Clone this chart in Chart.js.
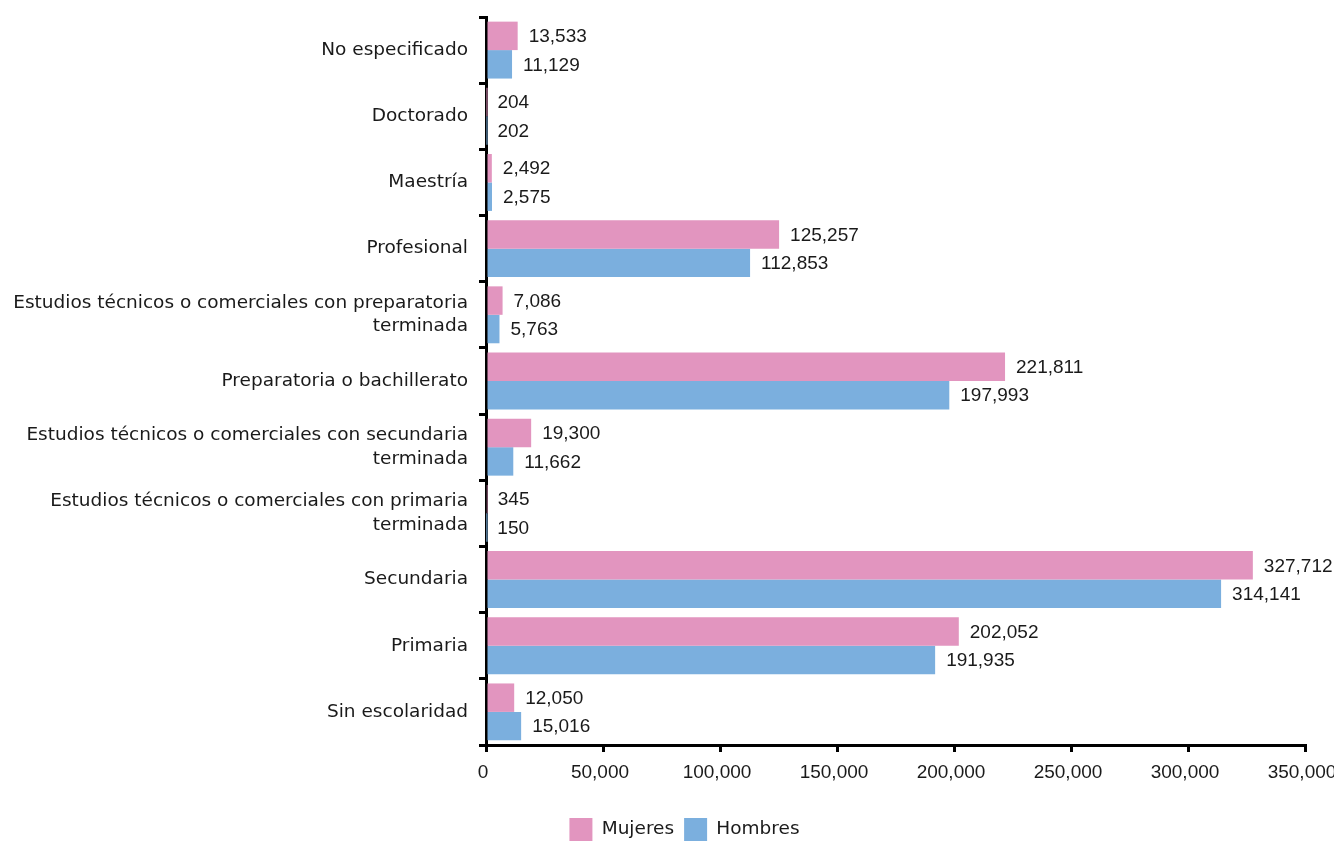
<!DOCTYPE html>
<html>
<head>
<meta charset="utf-8">
<script src="https://cdn.jsdelivr.net/npm/chart.js@4.4.1/dist/chart.umd.min.js"></script>
<style>
  html, body { margin: 0; padding: 0; background: #fff; }
  #wrap { width: 1334px; height: 841px; position: relative; }
</style>
</head>
<body>
<div id="wrap"><canvas id="c" width="1334" height="841"></canvas></div>
<script>
const categories = [
  'No especificado',
  'Doctorado',
  'Maestría',
  'Profesional',
  ['Estudios técnicos o comerciales con preparatoria', 'terminada'],
  'Preparatoria o bachillerato',
  ['Estudios técnicos o comerciales con secundaria', 'terminada'],
  ['Estudios técnicos o comerciales con primaria', 'terminada'],
  'Secundaria',
  'Primaria',
  'Sin escolaridad'
];
const mujeres = [13533, 204, 2492, 125257, 7086, 221811, 19300, 345, 327712, 202052, 12050];
const hombres = [11129, 202, 2575, 112853, 5763, 197993, 11662, 150, 314141, 191935, 15016];
const xTicks = [0, 50000, 100000, 150000, 200000, 250000, 300000, 350000];

const TEXT_FONT = 'DejaVu Sans';
const TEXT_SIZE = 18.5;
const NUM_FONT = 'Liberation Sans';
const NUM_SIZE = 19;
const INK = '#1a1a1a';

const valueLabels = {
  id: 'valueLabels',
  afterDatasetsDraw(chart) {
    const ctx = chart.ctx;
    ctx.save();
    ctx.font = NUM_SIZE + 'px "' + NUM_FONT + '"';
    ctx.fillStyle = INK;
    ctx.textAlign = 'left';
    ctx.textBaseline = 'middle';
    chart.data.datasets.forEach((ds, di) => {
      chart.getDatasetMeta(di).data.forEach((bar, i) => {
        ctx.fillText(ds.data[i].toLocaleString('en-US'), bar.x + 11, bar.y + 1);
      });
    });
    ctx.restore();
  }
};

// centre the legend under the figure the way the original does
const legendShift = {
  id: 'legendShift',
  afterLayout(chart) {
    if (chart.legend) { chart.legend.left = 64; }
  }
};

new Chart(document.getElementById('c'), {
  type: 'bar',
  data: {
    labels: categories,
    datasets: [
      { label: 'Mujeres', data: mujeres, backgroundColor: '#e295bf', borderWidth: 0 },
      { label: 'Hombres', data: hombres, backgroundColor: '#7bafde', borderWidth: 0 }
    ]
  },
  options: {
    indexAxis: 'y',
    responsive: false,
    animation: false,
    devicePixelRatio: 1,
    categoryPercentage: 0.86,
    barPercentage: 1.0,
    layout: { padding: { top: 17, right: 29, bottom: -10, left: 0 } },
    scales: {
      x: {
        min: 0, max: 350000,
        afterBuildTicks(scale) { scale.ticks = xTicks.map(v => ({ value: v })); },
        afterFit(scale) { scale.height = 63; scale.paddingLeft = 0; scale.paddingRight = 0; },
        border: { display: true, color: '#000', width: 3 },
        grid: { display: true, drawOnChartArea: false, drawTicks: true, tickLength: 7, color: '#000', lineWidth: 3 },
        ticks: {
          color: INK, padding: 9, maxRotation: 0, autoSkip: false, labelOffset: -3,
          font: { family: NUM_FONT, size: NUM_SIZE },
          callback: (v) => Number(v).toLocaleString('en-US')
        }
      },
      y: {
        afterFit(scale) { scale.width = 486; scale.paddingTop = 0; scale.paddingBottom = 0; },
        border: { display: true, color: '#000', width: 3 },
        grid: { display: true, drawOnChartArea: false, drawTicks: true, tickLength: 7, color: '#000', lineWidth: 3, offset: true },
        ticks: {
          color: INK, padding: 11, autoSkip: false,
          font: { family: TEXT_FONT, size: TEXT_SIZE, lineHeight: 1.27 }
        }
      }
    },
    plugins: {
      legend: {
        position: 'bottom',
        labels: {
          boxWidth: 23, boxHeight: 23, padding: 10,
          color: INK,
          font: { family: TEXT_FONT, size: TEXT_SIZE }
        }
      },
      tooltip: { enabled: false }
    }
  },
  plugins: [valueLabels, legendShift]
});
</script>
</body>
</html>
